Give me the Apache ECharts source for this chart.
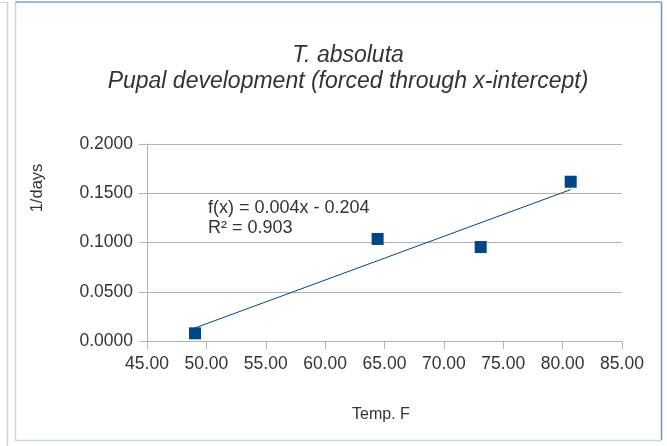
<!DOCTYPE html>
<html>
<head>
<meta charset="utf-8">
<script src="https://cdn.jsdelivr.net/npm/echarts@6/dist/echarts.min.js"></script>
<style>
  html, body { margin: 0; padding: 0; background: #fff; }
  #main { width: 667px; height: 446px; }
</style>
</head>
<body>
<div id="main"></div>
<script>
var tempF = [49.04, 64.42, 73.10, 80.68];
var rate = [0.0078, 0.1036, 0.0954, 0.1617];
var titleLines = ['T. absoluta', 'Pupal development (forced through x-intercept)'];
var fitLabel = ['f(x) = 0.004x - 0.204', 'R² = 0.903'];
var xName = 'Temp. F';
var yName = '1/days';

// least squares trend line from the points
var n = tempF.length, mx = 0, my = 0;
for (var i = 0; i < n; i++) { mx += tempF[i]; my += rate[i]; }
mx /= n; my /= n;
var sxy = 0, sxx = 0;
for (var i = 0; i < n; i++) {
    sxy += (tempF[i] - mx) * (rate[i] - my);
    sxx += (tempF[i] - mx) * (tempF[i] - mx);
}
var slope = sxy / sxx;
var icpt = my - slope * mx;
var x0 = Math.min.apply(null, tempF), x1 = Math.max.apply(null, tempF);
var trend = [[x0, slope * x0 + icpt], [x1, slope * x1 + icpt]];

var points = tempF.map(function (x, i) { return [x, rate[i]]; });

var chartDom = document.getElementById('main');
var myChart = echarts.init(chartDom);
var font = 'Liberation Sans';
var txt = '#333333';
var option;

option = {
    animation: false,
    textStyle: { fontFamily: font },
    title: {
        text: titleLines.join('\n'),
        left: 343,
        top: 38,
        textAlign: 'center',
        textStyle: {
            fontFamily: font,
            fontStyle: 'italic',
            fontWeight: 'normal',
            fontSize: 23,
            lineHeight: 26,
            color: txt
        }
    },
    grid: { left: 147, right: 45, top: 144, bottom: 105 },
    xAxis: {
        type: 'value',
        min: 45,
        max: 85,
        interval: 5,
        axisLine: { show: true, lineStyle: { color: '#b3b3b3' } },
        axisTick: { show: true, length: 8, lineStyle: { color: '#b3b3b3' } },
        axisLabel: {
            fontSize: 17.5,
            color: txt,
            margin: 14,
            formatter: function (v) { return v.toFixed(2); }
        },
        splitLine: { show: false }
    },
    yAxis: {
        type: 'value',
        min: 0,
        max: 0.2,
        interval: 0.05,
        axisLine: { show: true, lineStyle: { color: '#b3b3b3' } },
        axisTick: { show: true, length: 8, lineStyle: { color: '#b3b3b3' } },
        axisLabel: {
            fontSize: 17.5,
            color: txt,
            margin: 14,
            formatter: function (v) { return v.toFixed(4); }
        },
        splitLine: { show: true, lineStyle: { color: '#b3b3b3', width: 1 } }
    },
    graphic: [
        // cell borders around the chart
        { type: 'line', shape: { x1: 0, y1: 2.5, x2: 7.5, y2: 2.5 }, style: { stroke: '#c5d3e6', lineWidth: 1 } },
        { type: 'line', shape: { x1: 7.5, y1: 2, x2: 7.5, y2: 446 }, style: { stroke: '#c5d3e6', lineWidth: 1.5 } },
        { type: 'line', shape: { x1: 15.5, y1: 2, x2: 15.5, y2: 440.5 }, style: { stroke: '#c5d3e6', lineWidth: 1.5 } },
        { type: 'line', shape: { x1: 15.5, y1: 440.5, x2: 661, y2: 440.5 }, style: { stroke: '#c5d3e6', lineWidth: 1.5 } },
        { type: 'line', shape: { x1: 15.5, y1: 2, x2: 661.5, y2: 2 }, style: { stroke: '#7aa0cc', lineWidth: 1.5 } },
        { type: 'line', shape: { x1: 661.5, y1: 2, x2: 661.5, y2: 440 }, style: { stroke: '#6b97c8', lineWidth: 1.5 } },
        {
            type: 'text',
            x: 208,
            y: 198,
            style: {
                text: fitLabel.join('\n'),
                font: '18px "Liberation Sans"',
                lineHeight: 20,
                fill: txt
            }
        },
        {
            type: 'text',
            x: 381,
            y: 415,
            style: {
                text: xName,
                font: '16px "Liberation Sans"',
                align: 'center',
                verticalAlign: 'middle',
                fill: txt
            }
        },
        {
            type: 'text',
            x: 37,
            y: 188,
            rotation: Math.PI / 2,
            style: {
                text: yName,
                font: '16.5px "Liberation Sans"',
                align: 'center',
                verticalAlign: 'middle',
                fill: txt
            }
        }
    ],
    series: [
        {
            name: 'Trend',
            type: 'line',
            data: trend,
            symbol: 'none',
            lineStyle: { color: '#004586', width: 1 },
            z: 1
        },
        {
            name: 'Pupal development',
            type: 'scatter',
            data: points,
            symbol: 'rect',
            symbolSize: 12,
            itemStyle: { color: '#004586', opacity: 1 },
            z: 2
        }
    ]
};

option && myChart.setOption(option);
</script>
</body>
</html>
